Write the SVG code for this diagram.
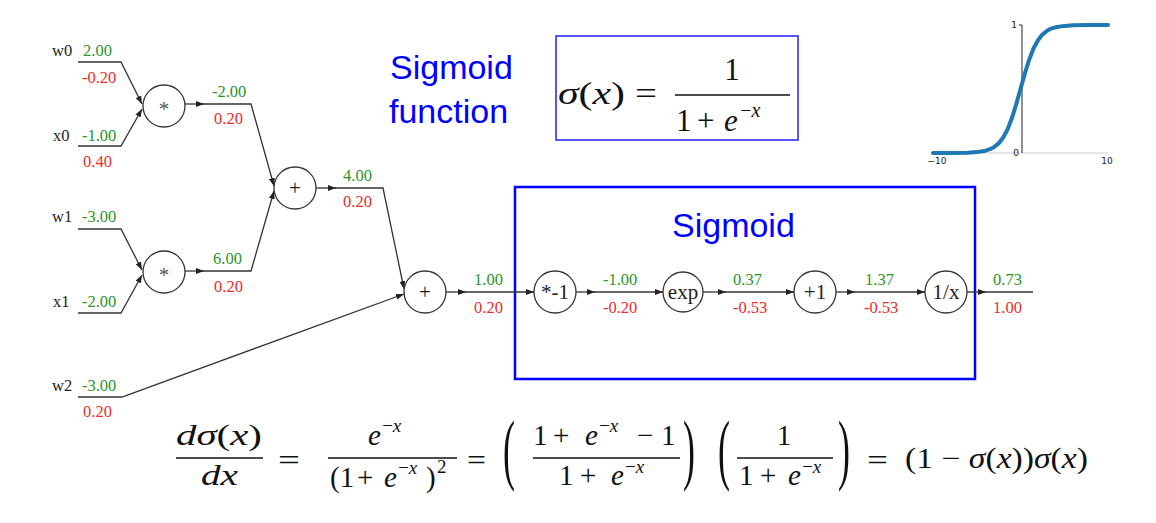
<svg xmlns="http://www.w3.org/2000/svg" width="1156" height="523" viewBox="0 0 1156 523">
<style>
.node circle{fill:#fff;stroke:#333;stroke-width:1.3}
.nt{font-family:"Liberation Serif",serif;font-size:21px;fill:#222;text-anchor:middle}
.edge{fill:none;stroke:#333;stroke-width:1.3}
.lbl{font-family:"Liberation Serif",serif;font-size:16.5px;fill:#222}
.g{font-family:"Liberation Serif",serif;font-size:16.5px;fill:#2a942a}
.r{font-family:"Liberation Serif",serif;font-size:16.5px;fill:#ee2a2a}
.m{font-family:"Liberation Serif",serif;font-size:29px;fill:#111}
.ms{font-family:"Liberation Serif",serif;font-size:19px;fill:#111;font-style:italic;letter-spacing:-1px}
.i{font-style:italic}
.bar{stroke:#111;stroke-width:1.4}
.blue{font-family:"Liberation Sans",Arial,sans-serif;font-size:34px;fill:#0000ff}
.ax{font-family:"DejaVu Sans",sans-serif;font-size:9px;fill:#222}
.big{font-family:"Liberation Serif",serif;font-size:36px;fill:#111}
</style>
<defs>
<marker id="ah" markerUnits="userSpaceOnUse" markerWidth="8" markerHeight="6" refX="8" refY="3" orient="auto">
<path d="M0,0 L8,3 L0,6 z" fill="#222"/>
</marker>
</defs>
<rect width="1156" height="523" fill="#fff"/>

<!-- boxes -->
<rect x="515" y="187" width="460" height="192" fill="none" stroke="#0000ff" stroke-width="2.5"/>
<rect x="556" y="36" width="242" height="104" fill="none" stroke="#2020ff" stroke-width="1.5"/>
<text class="blue" x="390" y="79">Sigmoid</text>
<text class="blue" x="389" y="123">function</text>
<text class="blue" x="672" y="237">Sigmoid</text>

<!-- connectors -->
<g id="connectors">
<path class="edge" d="M78,62 L121,62 L142,104" marker-end="url(#ah)"/>
<path class="edge" d="M78,146 L121,146 L142,109" marker-end="url(#ah)"/>
<path class="edge" d="M78,229 L121,229 L142,270" marker-end="url(#ah)"/>
<path class="edge" d="M78,313 L121,313 L142,275" marker-end="url(#ah)"/>
<path class="edge" d="M185,104 L204,104" marker-end="url(#ah)"/>
<path class="edge" d="M203,104 L251,104 L274,186" marker-end="url(#ah)"/>
<path class="edge" d="M185,271 L204,271" marker-end="url(#ah)"/>
<path class="edge" d="M203,271 L251,271 L274,191" marker-end="url(#ah)"/>
<path class="edge" d="M316,188 L336,188" marker-end="url(#ah)"/>
<path class="edge" d="M335,188 L383,188 L404,289" marker-end="url(#ah)"/>
<path class="edge" d="M78,397 L122,397 L404,294" marker-end="url(#ah)"/>
<path class="edge" d="M446,292 L466,292" marker-end="url(#ah)"/>
<path class="edge" d="M465,292 L534,292" marker-end="url(#ah)"/>
<path class="edge" d="M576,292 L595,292" marker-end="url(#ah)"/>
<path class="edge" d="M594,292 L663,292" marker-end="url(#ah)"/>
<path class="edge" d="M703,292 L726,292" marker-end="url(#ah)"/>
<path class="edge" d="M725,292 L794,292" marker-end="url(#ah)"/>
<path class="edge" d="M836,292 L855,292" marker-end="url(#ah)"/>
<path class="edge" d="M854,292 L925,292" marker-end="url(#ah)"/>
<path class="edge" d="M967,292 L986,292" marker-end="url(#ah)"/>
<path class="edge" d="M985,292 L1033,292"/>
</g>

<!-- nodes -->
<g id="mul0" class="node"><circle cx="164" cy="106" r="21"/><text class="nt" x="164" y="116" style="fill:#555">*</text></g>
<g id="mul1" class="node"><circle cx="164" cy="272" r="21"/><text class="nt" x="164" y="282" style="fill:#555">*</text></g>
<g id="add0" class="node"><circle cx="295" cy="188" r="21"/><text class="nt" x="295" y="195">+</text></g>
<g id="add1" class="node"><circle cx="425" cy="292" r="21"/><text class="nt" x="425" y="299">+</text></g>
<g id="neg" class="node"><circle cx="555" cy="292" r="21"/><text class="nt" x="555" y="299">*-1</text></g>
<g id="exp" class="node"><circle cx="683" cy="292" r="20"/><text class="nt" x="683" y="299">exp</text></g>
<g id="plus1" class="node"><circle cx="815" cy="292" r="21"/><text class="nt" x="815" y="299">+1</text></g>
<g id="inv" class="node"><circle cx="946" cy="292" r="21"/><text class="nt" x="946" y="299">1/x</text></g>

<!-- input labels -->
<g id="inputs">
<text class="lbl" x="52" y="56">w0</text><text class="g" x="83" y="56">2.00</text><text class="r" x="82" y="83">-0.20</text>
<text class="lbl" x="53" y="141">x0</text><text class="g" x="82" y="141">-1.00</text><text class="r" x="83" y="167">0.40</text>
<text class="lbl" x="52" y="222">w1</text><text class="g" x="82" y="222">-3.00</text>
<text class="lbl" x="53" y="307">x1</text><text class="g" x="82" y="307">-2.00</text>
<text class="lbl" x="52" y="391">w2</text><text class="g" x="82" y="391">-3.00</text><text class="r" x="83" y="417">0.20</text>
</g>
<g id="edge-values">
<text class="g" x="212" y="97">-2.00</text><text class="r" x="214" y="124">0.20</text>
<text class="g" x="213" y="264">6.00</text><text class="r" x="214" y="292">0.20</text>
<text class="g" x="343" y="181">4.00</text><text class="r" x="343" y="207">0.20</text>
<text class="g" x="474" y="285">1.00</text><text class="r" x="474" y="313">0.20</text>
<text class="g" x="603" y="285">-1.00</text><text class="r" x="603" y="313">-0.20</text>
<text class="g" x="733" y="285">0.37</text><text class="r" x="733" y="313">-0.53</text>
<text class="g" x="865" y="285">1.37</text><text class="r" x="864" y="313">-0.53</text>
<text class="g" x="993" y="285">0.73</text><text class="r" x="993" y="313">1.00</text>
</g>

<!-- top formula -->
<g id="sigma-formula">
<text class="m" x="558" y="104" style="font-size:31px" textLength="67" lengthAdjust="spacingAndGlyphs"><tspan class="i">σ</tspan>(<tspan class="i">x</tspan>)</text>
<text class="m" x="635" y="104" style="font-size:31px" textLength="22" lengthAdjust="spacingAndGlyphs">=</text>
<text class="m" x="732" y="80" style="font-size:31px" text-anchor="middle">1</text>
<line class="bar" x1="675" y1="95" x2="790" y2="95"/>
<text class="m" x="676" y="131" style="font-size:31px">1</text>
<text class="m" x="697" y="131" style="font-size:31px">+</text>
<text class="m i" x="724" y="131" style="font-size:31px">e</text>
<text class="ms" x="739" y="117" style="font-size:20px">−x</text>
</g>

<!-- chart -->
<g id="chart">
<line x1="933" y1="153" x2="1108" y2="153" stroke="#ccc" stroke-width="1"/>
<line x1="1022" y1="25" x2="1022" y2="153" stroke="#222" stroke-width="1"/>
<line x1="1019" y1="25" x2="1022" y2="25" stroke="#222" stroke-width="1"/>
<text class="ax" x="1017" y="28" text-anchor="end">1</text>
<text class="ax" x="1019" y="156" text-anchor="end">0</text>
<text class="ax" x="937" y="164" text-anchor="middle">−10</text>
<text class="ax" x="1107" y="164" text-anchor="middle">10</text>
<polyline fill="none" stroke="#1f77b4" stroke-width="4" stroke-linecap="round" stroke-linejoin="round" points="933,153 950.5,153 968,152.7 976.75,152.1 985.5,150.7 990,149.2 994.25,146.9 998.6,143.4 1003,137.8 1007.4,129.7 1011.75,118.6 1016.1,104.6 1020.5,89 1024.9,73.4 1029.25,59.4 1033.6,48.3 1038,40.2 1042.4,34.6 1046.75,31 1051,28.6 1055.5,27.3 1064.25,25.9 1073,25.3 1090.5,25 1108,25"/>
</g>

<!-- derivative -->
<g id="derivative">
<text class="m" x="176" y="445" textLength="86" lengthAdjust="spacingAndGlyphs"><tspan class="i">dσ</tspan>(<tspan class="i">x</tspan>)</text>
<line class="bar" x1="176" y1="458" x2="263" y2="458"/>
<text class="m i" x="201" y="485" textLength="37" lengthAdjust="spacingAndGlyphs">dx</text>
<text class="m" x="278" y="470" textLength="22" lengthAdjust="spacingAndGlyphs">=</text>

<text class="m i" x="368" y="445">e</text>
<text class="ms" x="381" y="432">−x</text>
<line class="bar" x1="328" y1="458" x2="457" y2="458"/>
<text class="m" x="330" y="487">(1</text>
<text class="m" x="357" y="487">+</text>
<text class="m i" x="384" y="487">e</text>
<text class="ms" x="397" y="474">−x</text>
<text class="m" x="426" y="487">)</text>
<text class="m" x="437" y="473" style="font-size:19px">2</text>
<text class="m" x="467" y="470" textLength="19" lengthAdjust="spacingAndGlyphs">=</text>

<text class="big" transform="translate(503,475) scale(1,2.17)">(</text>
<text class="m" x="533" y="445">1</text>
<text class="m" x="553" y="445">+</text>
<text class="m i" x="585" y="445">e</text>
<text class="ms" x="598" y="432">−x</text>
<text class="m" x="637" y="445">−</text>
<text class="m" x="661" y="445">1</text>
<line class="bar" x1="533" y1="458" x2="680" y2="458"/>
<text class="m" x="559" y="485">1</text>
<text class="m" x="580" y="485">+</text>
<text class="m i" x="611" y="485">e</text>
<text class="ms" x="624" y="473">−x</text>
<text class="big" transform="translate(683,475) scale(1,2.17)">)</text>

<text class="big" transform="translate(718,475) scale(1,2.17)">(</text>
<text class="m" x="784" y="445" text-anchor="middle">1</text>
<line class="bar" x1="737" y1="458" x2="833" y2="458"/>
<text class="m" x="739" y="485">1</text>
<text class="m" x="760" y="485">+</text>
<text class="m i" x="788" y="485">e</text>
<text class="ms" x="801" y="473">−x</text>
<text class="big" transform="translate(838,475) scale(1,2.17)">)</text>

<text class="m" x="867" y="470" textLength="21" lengthAdjust="spacingAndGlyphs">=</text>
<text class="m" x="905" y="468" textLength="183" lengthAdjust="spacingAndGlyphs">(1 − <tspan class="i">σ</tspan>(<tspan class="i">x</tspan>))<tspan class="i">σ</tspan>(<tspan class="i">x</tspan>)</text>
</g>
</svg>
